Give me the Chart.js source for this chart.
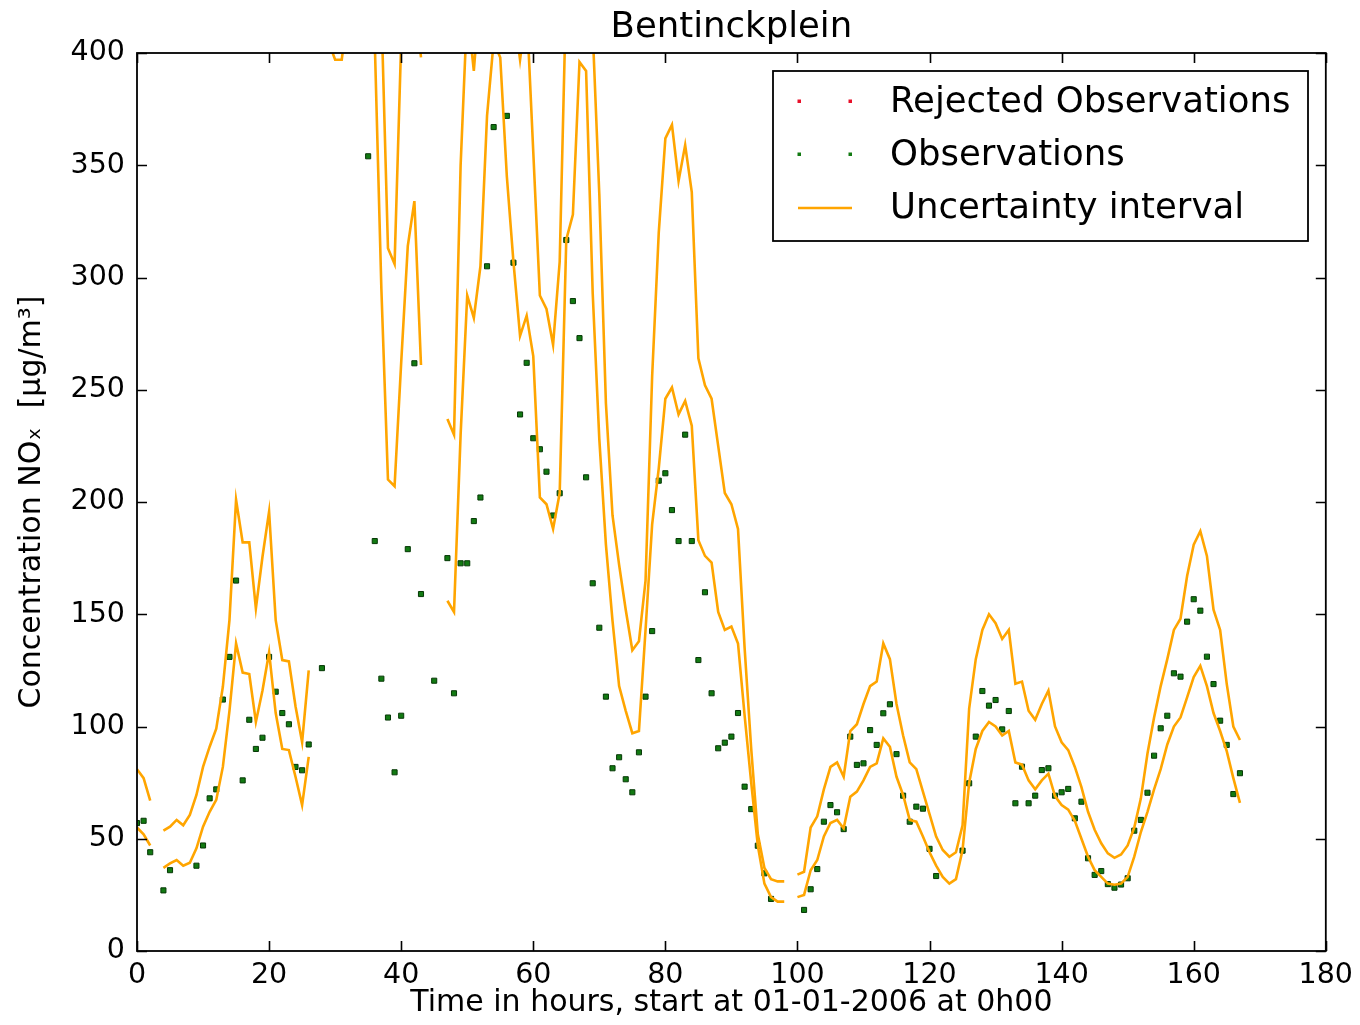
<!DOCTYPE html>
<html>
<head>
<meta charset="utf-8">
<script src="https://cdn.jsdelivr.net/npm/chart.js@4.4.1/dist/chart.umd.min.js"></script>
<style>
html,body{margin:0;padding:0;background:#ffffff;}
#wrap{width:1360px;height:1025px;}
</style>
</head>
<body>
<div id="wrap"><canvas id="c" width="1360" height="1025"></canvas></div>
<script>
// ---------------- DATA ----------------
const chartTitle = 'Bentinckplein';
const xAxisTitle = 'Time in hours, start at 01-01-2006 at 0h00';
const yAxisTitle = 'Concentration NOₓ  [μg/m³]';
const xTicks = [0, 20, 40, 60, 80, 100, 120, 140, 160, 180];
const yTicks = [0, 50, 100, 150, 200, 250, 300, 350, 400];
const seriesLabels = ['Rejected Observations', 'Observations', 'Uncertainty interval'];

// hourly values, index = hour since start (0..167); null = no value
const upperBound = [
  81, 77, 67, null, 53.6, 55.4, 58.4, 56, 60.6, 69.5,
  82, 91, 99, 117.7, 147.4, 201, 182, 182, 152.6, 175.6,
  195.7, 147.4, 129.6, 129, 109, 93, 125, null, null, 480,
  480, 480, 480, null, null, 500, 480, 420, 313, 306,
  405, 460, 430, 398, null, null, null, 237, 230, 350,
  420, 392, 430, 450, 480, 470, 450, 420, 397, 420,
  356, 292, 286, 270, 307, 430, 440, 450, 440, 410,
  337, 244, 194, 172, 152, 134, 138, 165, 256, 320,
  362, 368, 343, 359, 338, 264, 252, 246, 225, 204,
  199, 188, 135, 90, 52, 37, 32, 31, 31, null,
  34, 35.3, 55, 60, 72, 82, 84, 77.6, 98, 101,
  110, 118, 120, 137, 130, 110, 96, 84, 81, 71,
  61, 51, 45, 42, 44, 56, 108, 130, 143, 150,
  146, 139, 143, 119, 120, 107, 103, 110, 116, 100,
  93, 89.5, 82, 73, 62, 54, 48, 43.5, 41.5, 43,
  47, 55, 68, 88, 104, 118, 130, 143, 148, 167,
  181, 187, 176, 152, 143, 119, 100, 94
];
const lowerBound = [
  55, 52, 47, null, 37, 39, 40.5, 38, 39.3, 45.7,
  55.4, 62, 67.3, 82, 107, 137, 124, 123.4, 102, 116,
  133, 106, 90, 89.5, 77.6, 65, 86.5, null, null, 405,
  397, 397, 420, null, null, 450, 405, 295, 210, 207,
  262, 314, 334, 261, null, null, null, 156, 151, 230,
  292, 282, 305, 372, 405, 398, 345, 307, 274, 283,
  265, 202, 199, 188, 204, 317, 328, 396, 392, 293,
  228, 181, 147, 118, 107, 97, 98, 143, 190, 215,
  246, 251, 239, 245, 234, 183, 176, 173, 151, 143,
  144.5, 137, 105, 75, 47, 30, 24, 22, 22, null,
  24, 25, 36, 40.5, 51, 57, 58.4, 54.7, 68.7, 71,
  76, 82, 83.6, 94.7, 91, 77.6, 69.5, 58.4, 57.6, 51,
  44, 38, 33, 30, 32, 45, 75, 90, 98, 102,
  100, 96, 98, 84, 83, 76, 72, 76, 79, 69,
  65, 63, 58, 50, 42, 36, 33, 30, 29.5, 30,
  33, 42, 53, 62, 72, 81, 92, 100, 104, 113,
  122, 127, 118, 106, 98, 89, 77, 66
];
const observations = [
  57, 58, 44, null, 27, 36, null, null, null, 38,
  47, 68, 72, 112, 131, 165, 76, 103, 90, 95,
  131, 115.5, 106, 101, 82, 80.5, 92, null, 126, null,
  null, null, null, null, null, 354, 182.6, 121.3, 104, 79.6,
  104.8, 179, 261.8, 159, null, 120.4, null, 175, 114.8, 172.7,
  172.7, 191.5, 202, 305, 367, null, 372, 306.6, 239, 262,
  228.4, 223.5, 213.5, 194, 203.9, 316.7, 289.5, 273, 211, 163.8,
  144, 113.3, 81.4, 86.3, 76.5, 70.7, 88.5, 113.3, 142.5, 209.5,
  212.8, 196.4, 182.6, 230, 182.6, 129.6, 159.8, 114.8, 90.3, 92.8,
  95.5, 106, 73.2, 63.2, 46.9, 34.6, 23.2, null, null, null,
  null, 18.3, 27.5, 36.5, 57.6, 65, 61.8, 54.3, 95.5, 82.9,
  83.6, 98.4, 91.8, 105.9, 109.9, 87.7, 69.2, 57.6, 64.3, 63.4,
  45.5, 33.4, null, null, null, 44.7, 74.7, 95.5, 115.8, 109.3,
  111.8, 98.7, 106.9, 65.8, 82.1, 65.8, 69.2, 80.6, 81.4, 69.2,
  70.7, 72.2, 59.1, 66.5, 41.3, 33.9, 35.6, 29.8, 28.2, 29.6,
  32.4, 53.6, 58.4, 70.5, 87, 99.2, 104.8, 123.7, 122.2, 146.7,
  156.7, 151.6, 131.1, 118.9, 102.6, 91.8, 69.9, 79.2
];
const rejectedObservations = []; // none in this period

// ---------------- STYLE ----------------
const FONT = "'DejaVu Sans', 'Liberation Sans', sans-serif";
const ORANGE = '#FFA500';
const GREEN_FILL = '#127a12';
const GREEN_EDGE = '#063806';
const RED = '#e8102a';

const toPoints = arr => arr.map((v, i) => ({ x: i, y: v }));

// frame, inward ticks, title and legend in the classic matplotlib look
const mplDecor = {
  id: 'mplDecor',
  afterDatasetsDraw(chart) {
    const { ctx, chartArea: a, scales } = chart;
    const xs = scales.x, ys = scales.y;
    ctx.save();
    ctx.strokeStyle = '#000';
    ctx.lineWidth = 1.6;
    // inward ticks on all four sides
    const tl = 10;
    ctx.beginPath();
    xTicks.forEach(v => {
      const px = Math.round(xs.getPixelForValue(v)) + 0.5;
      ctx.moveTo(px, a.bottom); ctx.lineTo(px, a.bottom - tl);
      ctx.moveTo(px, a.top); ctx.lineTo(px, a.top + tl);
    });
    yTicks.forEach(v => {
      const py = Math.round(ys.getPixelForValue(v)) + 0.5;
      ctx.moveTo(a.left, py); ctx.lineTo(a.left + tl, py);
      ctx.moveTo(a.right, py); ctx.lineTo(a.right - tl, py);
    });
    ctx.stroke();
    // frame
    ctx.lineWidth = 1.8;
    ctx.strokeRect(a.left, a.top, a.right - a.left, a.bottom - a.top);

    // title
    ctx.fillStyle = '#000';
    ctx.font = '35.5px ' + FONT;
    ctx.textAlign = 'center';
    ctx.textBaseline = 'middle';
    ctx.fillText(chartTitle, (a.left + a.right) / 2, 28);

    // legend box
    const bx = 773, by = 71, bw = 535, bh = 170;
    ctx.fillStyle = '#fff';
    ctx.fillRect(bx, by, bw, bh);
    ctx.lineWidth = 1.8;
    ctx.strokeStyle = '#000';
    ctx.strokeRect(bx, by, bw, bh);
    const entries = chart.data.datasets.filter(d => d.inLegend);
    ctx.font = '35.5px ' + FONT;
    ctx.textAlign = 'left';
    ctx.textBaseline = 'middle';
    entries.forEach((d, i) => {
      const cy = by + 30 + i * 53;
      if (d.showLine === false) {
        ctx.fillStyle = d.backgroundColor;
        [799, 850].forEach(mx => ctx.fillRect(mx - 1.5, cy - 1.5, 3.5, 3.5));
      } else {
        ctx.strokeStyle = d.borderColor;
        ctx.lineWidth = d.borderWidth;
        ctx.beginPath(); ctx.moveTo(798, cy + 1); ctx.lineTo(852, cy + 1); ctx.stroke();
      }
      ctx.fillStyle = '#000';
      ctx.fillText(d.label, 890, cy + 2);
    });
    ctx.restore();
  }
};

const chart = new Chart(document.getElementById('c'), {
  type: 'line',
  data: {
    datasets: [
      {
        label: seriesLabels[0], inLegend: true,
        data: rejectedObservations, showLine: false,
        backgroundColor: RED, borderColor: RED,
        pointStyle: 'rect', pointRadius: 3, order: 2
      },
      {
        label: seriesLabels[1], inLegend: true,
        data: toPoints(observations), showLine: false,
        backgroundColor: GREEN_FILL, borderColor: GREEN_EDGE, pointBorderWidth: 1,
        pointStyle: 'rect', pointRadius: 3.6, order: 2
      },
      {
        label: seriesLabels[2], inLegend: true,
        data: toPoints(upperBound), borderColor: ORANGE, borderWidth: 2.6,
        pointRadius: 0, tension: 0, spanGaps: false, fill: false, order: 0
      },
      {
        label: seriesLabels[2], inLegend: false,
        data: toPoints(lowerBound), borderColor: ORANGE, borderWidth: 2.6,
        pointRadius: 0, tension: 0, spanGaps: false, fill: false, order: 0
      }
    ]
  },
  options: {
    responsive: false,
    animation: false,
    devicePixelRatio: 1,
    layout: { padding: { top: 53, right: 34, bottom: 0, left: 0 } },
    plugins: {
      legend: { display: false },
      title: { display: false },
      tooltip: { enabled: false }
    },
    scales: {
      x: {
        type: 'linear', min: 0, max: 180,
        grid: { display: false, drawTicks: false },
        border: { display: false },
        afterBuildTicks: s => { s.ticks = xTicks.map(v => ({ value: v })); },
        afterFit: s => { s.height = 74; },
        ticks: { color: '#000', font: { family: FONT, size: 28.5 }, padding: 7, maxRotation: 0, autoSkip: false },
        title: { display: true, text: xAxisTitle, color: '#000', font: { family: FONT, size: 30 }, padding: { top: 0, bottom: 4 } }
      },
      y: {
        type: 'linear', min: 0, max: 400,
        grid: { display: false, drawTicks: false },
        border: { display: false },
        afterBuildTicks: s => { s.ticks = yTicks.map(v => ({ value: v })); },
        afterFit: s => { s.width = 137; },
        ticks: { color: '#000', font: { family: FONT, size: 28.5 }, padding: 12, autoSkip: false },
        title: { display: true, text: yAxisTitle, color: '#000', font: { family: FONT, size: 30 }, padding: { top: 14, bottom: 0 } }
      }
    }
  },
  plugins: [mplDecor]
});
</script>
</body>
</html>
